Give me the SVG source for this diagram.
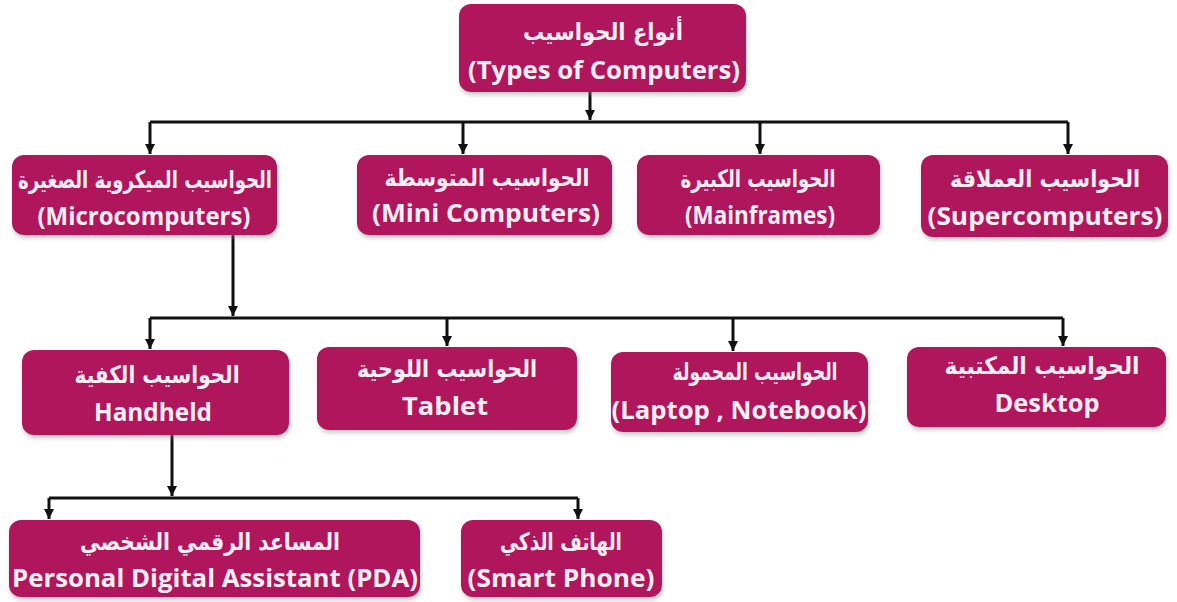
<svg xmlns="http://www.w3.org/2000/svg" width="1177" height="602" viewBox="0 0 1177 602">
<style>
.box{fill:#b0135c;filter:url(#sh);}
.ar{font-family:"DejaVu Sans",sans-serif;font-weight:bold;font-size:24px;fill:#fbeef4;text-anchor:middle;}
.en{font-family:"Open Sans","Liberation Sans",sans-serif;font-weight:bold;font-size:25px;fill:#fbeef4;text-anchor:middle;}
.ln{stroke:#111;stroke-width:3;fill:none;}
.arw{stroke:#111;stroke-width:3;fill:none;marker-end:url(#ah);}
</style>
<defs>
<filter id="sh" x="-5%" y="-10%" width="110%" height="130%">
<feDropShadow dx="1" dy="3" stdDeviation="2" flood-color="#888" flood-opacity="0.45"/>
</filter>
<marker id="ah" markerUnits="userSpaceOnUse" markerWidth="12" markerHeight="12" refX="10" refY="5.5" orient="auto" viewBox="0 0 12 12">
<path d="M0,0.5 L10,5.5 L0,10.5 Z" fill="#111"/>
</marker>
</defs>
<rect width="1177" height="602" fill="#ffffff"/>

<g id="connectors">
<path class="arw" d="M590,92 V120"/>
<path class="ln" d="M150,122 H1068"/>
<path class="arw" d="M150,122 V154"/>
<path class="arw" d="M463,122 V154"/>
<path class="arw" d="M760,122 V154"/>
<path class="arw" d="M1068,122 V154"/>
<path class="arw" d="M233,235 V316"/>
<path class="ln" d="M150,318 H1063"/>
<path class="arw" d="M150,318 V349"/>
<path class="arw" d="M447,318 V346"/>
<path class="arw" d="M733,318 V351"/>
<path class="arw" d="M1063,318 V346"/>
<path class="arw" d="M172,435 V496"/>
<path class="ln" d="M49,498 H578"/>
<path class="arw" d="M49,498 V519"/>
<path class="arw" d="M578,498 V519"/>
</g>

<g id="types">
<rect class="box" x="459" y="4" width="287" height="88" rx="12"/>
<text class="ar" x="603" y="40" textLength="160" lengthAdjust="spacingAndGlyphs">أنواع الحواسيب</text>
<text class="en" x="604" y="79" textLength="272" lengthAdjust="spacingAndGlyphs">(Types of Computers)</text>
</g>

<g id="micro">
<rect class="box" x="12" y="155" width="265" height="80" rx="12"/>
<text class="ar" x="145" y="188" textLength="254" lengthAdjust="spacingAndGlyphs">الحواسيب الميكروية الصغيرة</text>
<text class="en" x="144" y="225" textLength="213" lengthAdjust="spacingAndGlyphs">(Microcomputers)</text>
</g>

<g id="mini">
<rect class="box" x="357" y="155" width="255" height="80" rx="12"/>
<text class="ar" x="487" y="186" textLength="205" lengthAdjust="spacingAndGlyphs">الحواسيب المتوسطة</text>
<text class="en" x="486" y="222" textLength="228" lengthAdjust="spacingAndGlyphs">(Mini Computers)</text>
</g>

<g id="mainframes">
<rect class="box" x="637" y="155" width="243" height="80" rx="12"/>
<text class="ar" x="758" y="187" textLength="155" lengthAdjust="spacingAndGlyphs">الحواسيب الكبيرة</text>
<text class="en" x="760" y="224" textLength="150" lengthAdjust="spacingAndGlyphs">(Mainframes)</text>
</g>

<g id="super">
<rect class="box" x="921" y="155" width="247" height="82" rx="12"/>
<text class="ar" x="1045" y="187" textLength="190" lengthAdjust="spacingAndGlyphs">الحواسيب العملاقة</text>
<text class="en" x="1045" y="225" textLength="235" lengthAdjust="spacingAndGlyphs">(Supercomputers)</text>
</g>

<g id="handheld">
<rect class="box" x="22" y="350" width="267" height="85" rx="12"/>
<text class="ar" x="157" y="383" textLength="165" lengthAdjust="spacingAndGlyphs">الحواسيب الكفية</text>
<text class="en" x="153" y="421" textLength="118" lengthAdjust="spacingAndGlyphs">Handheld</text>
</g>

<g id="tablet">
<rect class="box" x="317" y="347" width="260" height="83" rx="12"/>
<text class="ar" x="447" y="377" textLength="180" lengthAdjust="spacingAndGlyphs">الحواسيب اللوحية</text>
<text class="en" x="445" y="415" textLength="86" lengthAdjust="spacingAndGlyphs">Tablet</text>
</g>

<g id="laptop">
<rect class="box" x="611" y="352" width="257" height="80" rx="12"/>
<text class="ar" x="755" y="380" textLength="165" lengthAdjust="spacingAndGlyphs">الحواسيب المحمولة</text>
<text class="en" x="739" y="419" textLength="255" lengthAdjust="spacingAndGlyphs">(Laptop , Notebook)</text>
</g>

<g id="desktop">
<rect class="box" x="907" y="347" width="259" height="80" rx="12"/>
<text class="ar" x="1042" y="374" textLength="195" lengthAdjust="spacingAndGlyphs">الحواسيب المكتبية</text>
<text class="en" x="1047" y="412" textLength="105" lengthAdjust="spacingAndGlyphs">Desktop</text>
</g>

<g id="pda">
<rect class="box" x="9" y="520" width="411" height="77" rx="12"/>
<text class="ar" x="210" y="550" textLength="260" lengthAdjust="spacingAndGlyphs">المساعد الرقمي الشخصي</text>
<text class="en" x="215" y="587" textLength="406" lengthAdjust="spacingAndGlyphs">Personal Digital Assistant (PDA)</text>
</g>

<g id="smartphone">
<rect class="box" x="461" y="520" width="201" height="77" rx="12"/>
<text class="ar" x="561" y="550" textLength="122" lengthAdjust="spacingAndGlyphs">الهاتف الذكي</text>
<text class="en" x="561" y="587" textLength="187" lengthAdjust="spacingAndGlyphs">(Smart Phone)</text>
</g>
</svg>
